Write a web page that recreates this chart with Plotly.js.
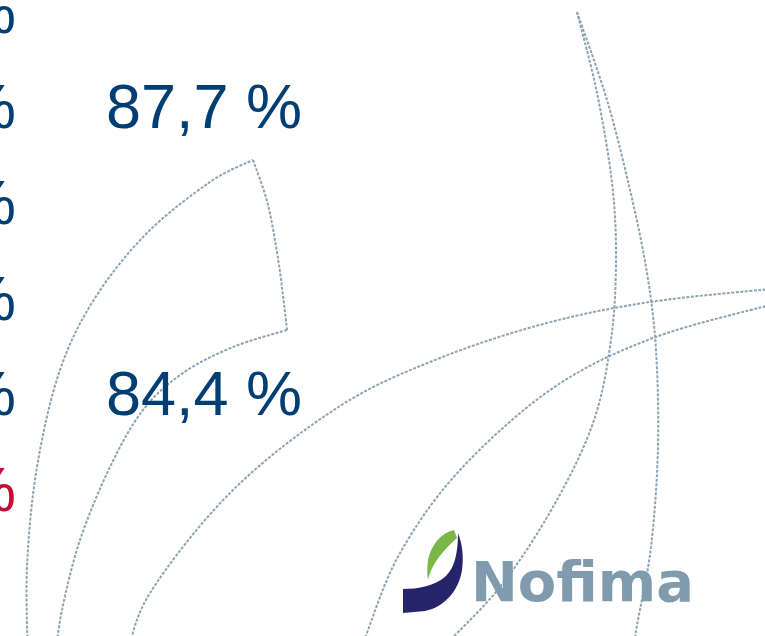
<!DOCTYPE html>
<html>
<head>
<meta charset="utf-8">
<script src="https://cdn.plot.ly/plotly-3.0.1.min.js"></script>
<style>html,body{margin:0;padding:0;background:#ffffff;overflow:hidden}</style>
</head>
<body>
<div id="chart" style="width:765px;height:636px"></div>
<script>
// ---- data ----
const rows = [0, 1, 2, 3, 4, 5];                       // table rows visible in the crop
const leftFragments = ['%', '%', '%', '%', '%', '%'];  // only the tail of each left-column value is visible
const leftIsHighlighted = [false, false, false, false, false, true];
const rightValues = [null, 87.7, null, null, 84.4, null];
const logoText = 'Nofima';

// ---- styling ----
const BLUE = 'rgb(0,62,115)';
const RED = 'rgb(196,14,52)';
const LINE = 'rgb(140,164,180)';
const TXT_FONT = 'Liberation Sans, Arial, sans-serif';

function fmt(v) { return v.toFixed(1).replace('.', ',') + ' %'; }

// Catmull-Rom -> cubic Bezier path through decoration points (pixel space)
function smooth(pts) {
  let d = 'M' + pts[0][0] + ',' + pts[0][1];
  for (let i = 0; i < pts.length - 1; i++) {
    const p0 = pts[i - 1] || pts[i], p1 = pts[i], p2 = pts[i + 1], p3 = pts[i + 2] || pts[i + 1];
    const c1 = [p1[0] + (p2[0] - p0[0]) / 6, p1[1] + (p2[1] - p0[1]) / 6];
    const c2 = [p2[0] - (p3[0] - p1[0]) / 6, p2[1] - (p3[1] - p1[1]) / 6];
    d += ' C' + c1[0].toFixed(1) + ',' + c1[1].toFixed(1) + ' ' + c2[0].toFixed(1) + ',' + c2[1].toFixed(1) + ' ' + p2[0] + ',' + p2[1];
  }
  return d;
}

// decorative background curves (pixel coordinates of the slide art)
const deco = [
  [[28,660],[27,567],[37,467],[60,370],[95,298],[147,233],[210,182],[253,160]],
  [[253,160],[268,205],[279,265],[287,330]],
  [[287,330],[233,347],[183,373],[143,410],[110,467],[80,540],[62,610],[55,660]],
  [[770,289],[650,302],[547,323],[440,358],[340,406],[233,490],[150,593],[126,660]],
  [[770,305],[653,338],[553,388],[460,470],[400,553],[367,633],[360,660]],
  [[577,12],[597,93],[612,183],[616,260],[611,340],[593,423],[553,507],[500,587],[440,650]],
  [[577,12],[607,100],[630,190],[647,273],[656,350],[658,447],[651,547],[637,625],[632,660]]
];

const shapes = deco.map(pts => ({
  type: 'path', xref: 'x', yref: 'y2', path: smooth(pts),
  line: {color: LINE, width: 2, dash: '3px,1.5px'}, layer: 'below'
}));

// logo marks
shapes.push({
  type: 'path', xref: 'x', yref: 'y2', layer: 'above',
  path: 'M403,589 C418,589 435,586 446,576 C455,567 458,552 458,533 C462,543 464,556 462,570 C459,590 445,607 425,611 L403,613 Z',
  fillcolor: 'rgb(37,35,106)', line: {width: 0}
});
shapes.push({
  type: 'path', xref: 'x', yref: 'y2', layer: 'above',
  path: 'M454,530 C441,533 431,545 428,560 C427,568 427,574 428,580 C431,568 437,556 457,538 Z',
  fillcolor: 'rgb(122,183,72)', line: {width: 0}
});

const annotations = [];
rows.forEach((r, i) => {
  annotations.push({
    x: 17, y: r, xref: 'x', yref: 'y', xanchor: 'right', yanchor: 'middle',
    text: leftFragments[i], showarrow: false, borderpad: 0,
    font: {family: TXT_FONT, size: 63, color: leftIsHighlighted[i] ? RED : BLUE}
  });
  if (rightValues[i] !== null) {
    annotations.push({
      x: 105, y: r, xref: 'x', yref: 'y', xanchor: 'left', yanchor: 'middle',
      text: fmt(rightValues[i]), showarrow: false, borderpad: 0,
      font: {family: TXT_FONT, size: 63, color: BLUE}
    });
  }
});
annotations.push({
  x: 470, y: 581, xref: 'x', yref: 'y2', xanchor: 'left', yanchor: 'middle',
  text: '<b>' + logoText + '</b>', showarrow: false, borderpad: 0,
  font: {family: 'DejaVu Sans, Verdana, sans-serif', size: 56, color: 'rgb(127,155,173)'}
});

const data = [{
  type: 'scatter', mode: 'markers', x: [0], y: [0], xaxis: 'x', yaxis: 'y2',
  marker: {opacity: 0}, hoverinfo: 'skip', showlegend: false
}];

const layout = {
  width: 765, height: 636,
  margin: {l: 0, r: 0, t: 0, b: 0, pad: 0},
  paper_bgcolor: '#ffffff', plot_bgcolor: '#ffffff',
  showlegend: false,
  xaxis: {range: [0, 765], visible: false, fixedrange: true},
  yaxis: {range: [6.535, -0.111], visible: false, fixedrange: true},
  yaxis2: {range: [636, 0], visible: false, overlaying: 'y', fixedrange: true},
  shapes: shapes,
  annotations: annotations
};

Plotly.newPlot('chart', data, layout, {displayModeBar: false, staticPlot: true});
</script>
</body>
</html>
